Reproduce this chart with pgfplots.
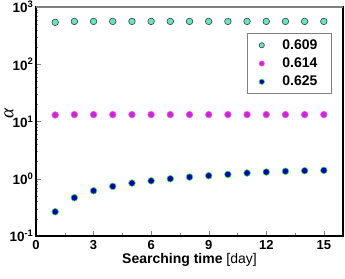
\documentclass[border=0pt]{standalone}
\usepackage{pgfplots}
\pgfplotsset{compat=1.18}
\usepackage{fontspec}
\setmainfont{Liberation Sans}
\newfontfamily\seriffont{Liberation Serif}
\definecolor{cteal}{RGB}{100,230,190}
\definecolor{cmag}{RGB}{200,40,220}
\definecolor{cmagedge}{RGB}{255,90,200}
\definecolor{cblue}{RGB}{0,0,180}
\definecolor{cgreen}{RGB}{60,220,60}
\begin{document}
\begin{tikzpicture}
\begin{axis}[
  scale only axis,
  width=307pt, height=229pt,
  ymode=log,
  xmin=0, xmax=16,
  ymin=0.1, ymax=1000,
  xtick={0,3,6,9,12,15},
  minor x tick num=1,
  ytick={0.1,1,10,100,1000},
  yticklabels={{10\textsuperscript{-1}},{10\textsuperscript{0}},{10\textsuperscript{1}},{10\textsuperscript{2}},{10\textsuperscript{3}}},
  xticklabel style={font=\fontsize{13}{15}\selectfont\bfseries, yshift=-1pt},
  yticklabel style={font=\fontsize{13.5}{15}\selectfont\bfseries, xshift=1pt},
  /pgf/number format/assume math mode=true,
  tick pos=left,
  tick align=inside,
  major tick length=5pt,
  minor tick length=2.5pt,
  axis line style={line width=1.2pt},
  xlabel={\textbf{Searching time} [day]},
  xlabel style={font=\fontsize{14}{16}\selectfont, yshift=3pt},
  ylabel={\fontsize{19}{20}\selectfont\seriffont\itshape α},
  every axis y label/.style={at={(rel axis cs:0,0.533)}, anchor=center, xshift=-27pt, rotate=90, inner sep=0pt},
  legend style={at={(0.964,0.886)}, anchor=north east, draw=gray, line width=1pt, font=\fontsize{14}{16}\selectfont\bfseries, row sep=3pt, inner xsep=12pt, inner ysep=4pt},
  legend cell align=left,
  legend image post style={scale=0.8},
]
\addplot[only marks, mark=*, mark size=3.3pt, mark options={fill=cteal, draw=darkgray, line width=0.6pt}] coordinates {
(1,540)(2,560)(3,560)(4,560)(5,560)(6,560)(7,560)(8,560)(9,560)(10,560)(11,560)(12,560)(13,560)(14,560)(15,560)};
\addlegendentry{\hspace{16pt}0.609\hspace{-4pt}}
\addplot[only marks, mark=*, mark size=3.3pt, mark options={fill=cmag, draw=cmagedge, line width=0.6pt}] coordinates {
(1,13.0)(2,13.2)(3,13.2)(4,13.2)(5,13.2)(6,13.2)(7,13.2)(8,13.2)(9,13.2)(10,13.2)(11,13.2)(12,13.2)(13,13.2)(14,13.2)(15,13.2)};
\addlegendentry{\hspace{16pt}0.614\hspace{-4pt}}
\addplot[only marks, mark=*, mark size=3.3pt, mark options={fill=cblue, draw=cgreen, line width=0.6pt}] coordinates {
(1,0.265)(2,0.466)(3,0.617)(4,0.736)(5,0.84)(6,0.92)(7,1.0)(8,1.07)(9,1.13)(10,1.19)(11,1.26)(12,1.31)(13,1.35)(14,1.38)(15,1.40)};
\addlegendentry{\hspace{16pt}0.625\hspace{-4pt}}
\draw[gray, line width=1.5pt] (rel axis cs:0,1) -- (rel axis cs:1,1);
\coordinate (ll) at (rel axis cs:0,0);
\coordinate (ur) at (rel axis cs:1,1);
\end{axis}
\pgfresetboundingbox
\path ([shift={(-36pt,-43pt)}]ll) rectangle ([shift={(2pt,7pt)}]ur);
\end{tikzpicture}
\end{document}
